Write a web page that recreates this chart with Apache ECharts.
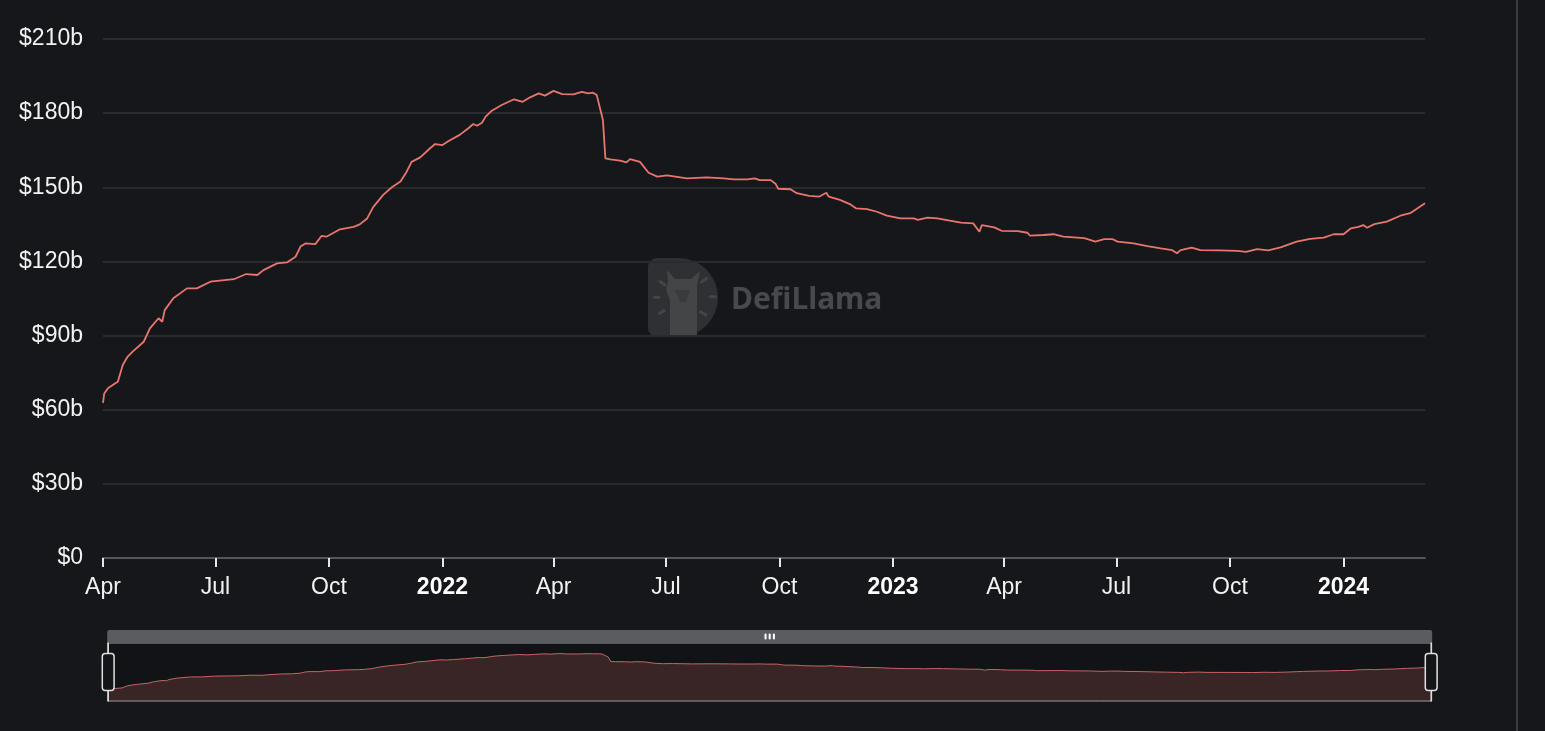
<!DOCTYPE html>
<html>
<head>
<meta charset="utf-8">
<style>
html,body{margin:0;padding:0;background:#16171b;}
#chart{width:1545px;height:731px;}
</style>
<script src="https://cdn.jsdelivr.net/npm/echarts@6/dist/echarts.min.js"></script>
</head>
<body>
<div id="chart"></div>
<script>
const dates = [
'2021-04-01','2021-04-02','2021-04-05','2021-04-11','2021-04-13','2021-04-17','2021-04-21','2021-04-25',
'2021-05-04','2021-05-09','2021-05-16','2021-05-19','2021-05-21','2021-05-28','2021-06-08','2021-06-16',
'2021-06-27','2021-07-16','2021-07-26','2021-08-04','2021-08-09','2021-08-20','2021-08-28','2021-09-04',
'2021-09-08','2021-09-12','2021-09-20','2021-09-25','2021-09-29','2021-10-10','2021-10-21','2021-10-26',
'2021-11-01','2021-11-06','2021-11-14','2021-11-21','2021-11-28','2021-12-03','2021-12-07','2021-12-14',
'2021-12-22','2021-12-26','2022-01-01','2022-01-06','2022-01-15','2022-01-22','2022-01-26','2022-01-29',
'2022-02-02','2022-02-05','2022-02-10','2022-02-18','2022-02-28','2022-03-07','2022-03-13','2022-03-20',
'2022-03-25','2022-04-01','2022-04-08','2022-04-17','2022-04-24','2022-04-29','2022-05-03','2022-05-06',
'2022-05-09','2022-05-11','2022-05-13','2022-05-17','2022-05-25','2022-05-30','2022-06-02','2022-06-10',
'2022-06-17','2022-06-24','2022-07-02','2022-07-18','2022-08-03','2022-08-17','2022-08-25','2022-09-05',
'2022-09-11','2022-09-15','2022-09-24','2022-09-28','2022-09-30','2022-10-10','2022-10-15','2022-10-25',
'2022-11-02','2022-11-08','2022-11-10','2022-11-19','2022-11-27','2022-12-02','2022-12-11','2022-12-19',
'2022-12-27','2023-01-07','2023-01-18','2023-01-21','2023-01-29','2023-02-06','2023-02-16','2023-02-25',
'2023-03-07','2023-03-12','2023-03-14','2023-03-24','2023-03-30','2023-04-12','2023-04-20','2023-04-22',
'2023-05-03','2023-05-11','2023-05-19','2023-06-05','2023-06-14','2023-06-21','2023-06-28','2023-07-02',
'2023-07-15','2023-07-26','2023-08-06','2023-08-15','2023-08-19','2023-08-22','2023-08-31','2023-09-07',
'2023-09-23','2023-10-07','2023-10-14','2023-10-23','2023-11-01','2023-11-11','2023-11-24','2023-12-05',
'2023-12-16','2023-12-24','2024-01-01','2024-01-07','2024-01-13','2024-01-17','2024-01-20','2024-01-26',
'2024-02-05','2024-02-16','2024-02-24','2024-03-01','2024-03-07'
];
const tvlBillions = [
62.8,66.6,68.7,70.7,71.3,78.1,81.5,83.5,
87.5,92.9,97.0,95.6,100.3,105.1,109.1,109.1,
111.8,112.8,114.9,114.5,116.5,119.2,119.6,121.9,
126.0,127.3,127.0,130.3,130.0,133.0,134.0,135.0,
137.4,142.1,146.9,150.0,152.3,156.3,160.3,162.1,
165.8,167.5,167.1,168.7,171.2,173.9,175.6,174.9,
176.1,178.6,181.0,183.3,185.6,184.6,186.4,188.0,
187.1,189.0,187.7,187.6,188.6,188.0,188.3,187.3,
181.3,177.2,161.7,161.3,160.8,160.1,161.4,160.3,
155.9,154.3,154.8,153.6,154.0,153.6,153.2,153.2,
153.6,152.9,152.9,151.3,149.4,149.2,147.6,146.5,
146.2,147.8,146.2,144.9,143.2,141.5,141.2,140.1,
138.5,137.4,137.4,136.8,137.7,137.4,136.5,135.7,
135.4,132.0,134.7,133.8,132.4,132.3,131.6,130.4,
130.7,131.0,130.0,129.4,128.0,129.0,129.0,128.0,
127.3,126.2,125.3,124.6,123.3,124.6,125.6,124.6,
124.5,124.3,123.9,125.0,124.5,125.7,128.0,129.1,
129.6,131.0,131.0,133.4,134.0,134.7,133.6,135.1,
136.1,138.5,139.5,141.5,143.5
];
const yTicks = [0,30,60,90,120,150,180,210];
const axisStart = '2021-04-01';
const axisEnd = '2024-03-07';

const seriesData = dates.map((d, i) => [d, tvlBillions[i]]);
const DAY = 86400000;
const lineColor = '#e8766f';
const fontFamily = '"Liberation Sans", Arial, Helvetica, sans-serif';

const chart = echarts.init(document.getElementById('chart'));
chart.setOption({
  backgroundColor: '#16171b',
  animation: false,
  grid: { left: 103, right: 120, top: 39, bottom: 173 },
  xAxis: {
    type: 'time',
    min: axisStart,
    max: axisEnd,
    minInterval: 88 * DAY,
    maxInterval: 93 * DAY,
    splitLine: { show: false },
    axisLine: { lineStyle: { color: '#55565a', width: 2 } },
    axisTick: { show: true, length: 9, lineStyle: { color: '#e6e6e6', width: 2 } },
    minorTick: { show: false },
    axisLabel: {
      color: '#f2f2f2',
      fontSize: 23,
      fontFamily: fontFamily,
      margin: 18,
      hideOverlap: false,
      formatter: {
        year: '{yr|{yyyy}}',
        month: '{MMM}',
        day: '{MMM}'
      },
      rich: {
        yr: { fontWeight: 'bold', fontSize: 23, color: '#ffffff', fontFamily: fontFamily }
      }
    }
  },
  yAxis: {
    type: 'value',
    min: yTicks[0],
    max: yTicks[yTicks.length - 1],
    interval: yTicks[1] - yTicks[0],
    axisLine: { show: false },
    axisTick: { show: false },
    splitLine: { lineStyle: { color: '#2a2b30', width: 2 } },
    axisLabel: {
      color: '#f2f2f2',
      fontSize: 23,
      fontFamily: fontFamily,
      margin: 20,
      formatter: v => v === 0 ? '$0' : '$' + v + 'b'
    }
  },
  dataZoom: [{
    type: 'slider',
    xAxisIndex: 0,
    start: 0,
    end: 100,
    left: 102,
    right: 118,
    top: 630,
    height: 59,
    showDetail: false,
    brushSelect: true,
    moveHandleSize: 13,
    moveHandleStyle: { color: '#5b5c5f', opacity: 1 },
    emphasis: { moveHandleStyle: { color: '#5b5c5f', opacity: 1 }, handleStyle: { borderColor: '#e0e0e0' } },
    borderColor: '#9a9a9a',
    borderRadius: 0,
    backgroundColor: 'rgba(0,0,0,0)',
    fillerColor: 'rgba(0,0,0,0.15)',
    handleStyle: { color: '#141518', borderColor: '#e0e0e0', borderWidth: 1.5 },
    dataBackground: {
      lineStyle: { color: lineColor, width: 1, opacity: 1 },
      areaStyle: { color: lineColor, opacity: 0.22 }
    },
    selectedDataBackground: {
      lineStyle: { color: lineColor, width: 1, opacity: 1 },
      areaStyle: { color: lineColor, opacity: 0.22 }
    },
    textStyle: { color: 'transparent' }
  }],
  graphic: [
    {
      type: 'rect', z: -1, silent: true,
      shape: { x: 1516, y: 0, width: 2, height: 731 },
      style: { fill: '#3c3d43' }
    },
    {
      type: 'group', silent: true, z: -1,
      children: [
        { type: 'rect', shape: { x: 648, y: 258, width: 70, height: 79, r: [9, 40, 40, 9] }, style: { fill: '#2f3033' } },
        { type: 'polygon', shape: { points: [[667,270],[675,279],[691,279],[700,271],[697,286],[697,337],[670,337],[670,300],[666,290],[668,281]] }, style: { fill: '#444547' } },
        { type: 'polygon', shape: { points: [[675,290],[690,290],[686,302],[680,302]] }, style: { fill: '#3a3b3d' } },
        { type: 'line', shape: { x1: 660, y1: 281.5, x2: 665, y2: 285 }, style: { stroke: '#444547', lineWidth: 3, lineCap: 'round' } },
        { type: 'line', shape: { x1: 654.5, y1: 297.3, x2: 659, y2: 297.3 }, style: { stroke: '#444547', lineWidth: 3, lineCap: 'round' } },
        { type: 'line', shape: { x1: 659.5, y1: 313.5, x2: 664, y2: 310.5 }, style: { stroke: '#444547', lineWidth: 3, lineCap: 'round' } },
        { type: 'line', shape: { x1: 701.5, y1: 282, x2: 706.5, y2: 278.5 }, style: { stroke: '#444547', lineWidth: 3, lineCap: 'round' } },
        { type: 'line', shape: { x1: 710, y1: 296.7, x2: 715, y2: 296.7 }, style: { stroke: '#444547', lineWidth: 3, lineCap: 'round' } },
        { type: 'line', shape: { x1: 700.5, y1: 311.7, x2: 706, y2: 315 }, style: { stroke: '#444547', lineWidth: 3, lineCap: 'round' } },
        { type: 'text', x: 731, y: 300, style: { text: 'DefiLlama', fill: '#48494c', font: 'bold 30px "Noto Sans", "Open Sans", sans-serif', verticalAlign: 'middle', align: 'left' } }
      ]
    }
  ],
  series: [{
    type: 'line',
    data: seriesData,
    showSymbol: false,
    symbol: 'none',
    sampling: 'none',
    lineStyle: { color: lineColor, width: 1.8 },
    itemStyle: { color: lineColor },
    z: 3
  }]
});
</script>
</body>
</html>
